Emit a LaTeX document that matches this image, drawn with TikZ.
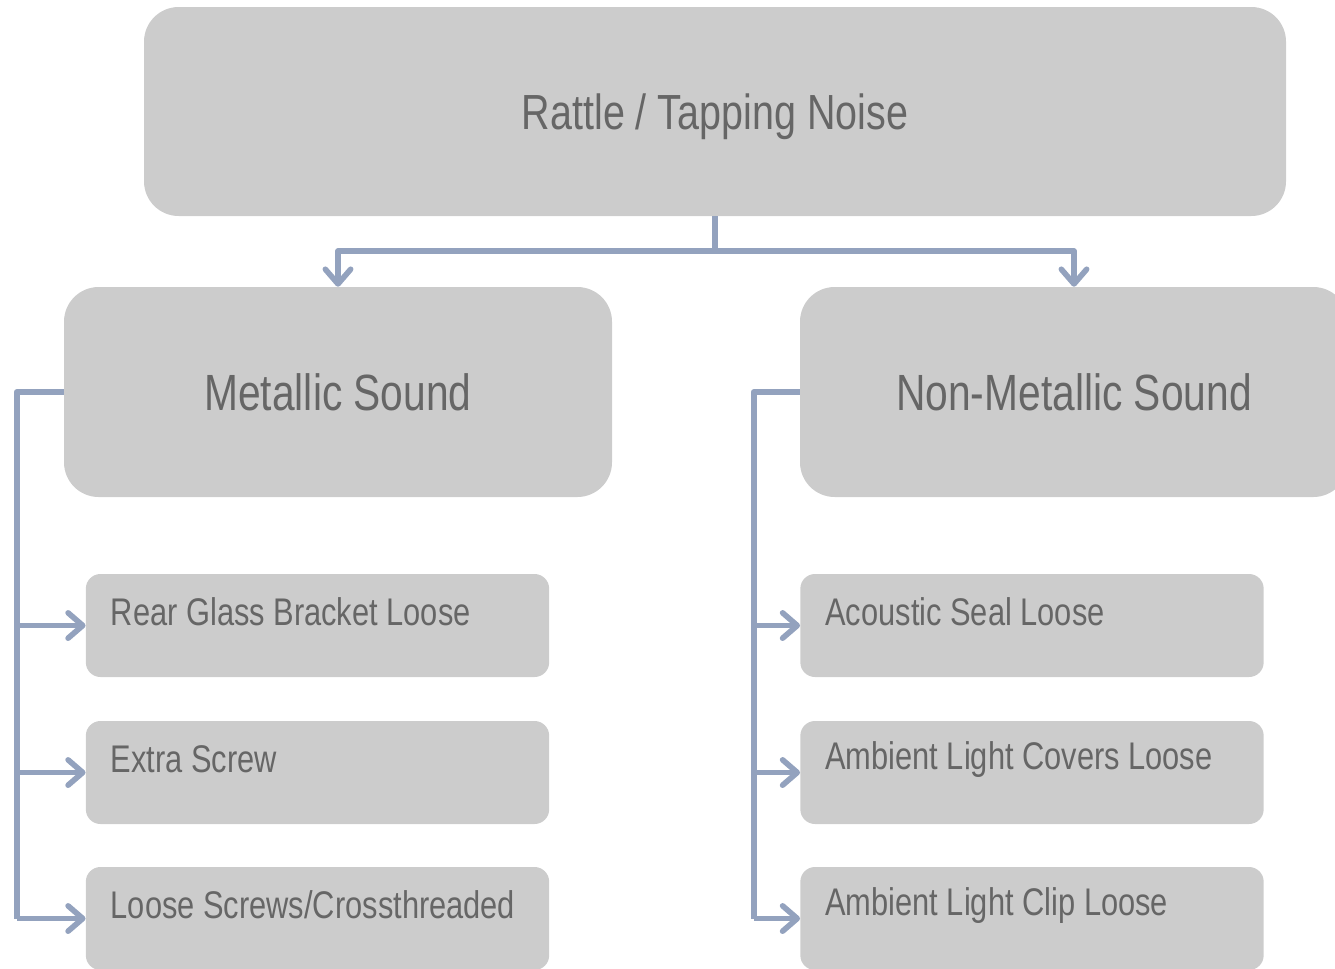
\documentclass[tikz,border=0pt]{standalone}
\usepackage{fontspec}
\setmainfont{Liberation Sans}[FakeStretch=0.8]
\usetikzlibrary{arrows.meta}
\definecolor{boxgray}{HTML}{CCCCCC}
\definecolor{txtgray}{HTML}{666666}
\definecolor{linkblue}{HTML}{93A2BE}
\begin{document}
\begin{tikzpicture}[x=0.75pt,y=-0.75pt,
  box/.style={fill=boxgray,text=txtgray,rounded corners=26pt,inner sep=0pt},
  leaf/.style={fill=boxgray,rounded corners=11pt,minimum width=347.5pt,minimum height=77.25pt},
  leaftxt/.style={anchor=west,text=txtgray,font=\fontsize{28.9}{30}\selectfont,inner sep=0pt},
  link/.style={draw=linkblue,line width=4.2pt,line join=round},
  arrowhd/.style={-{Straight Barb[length=11pt,width=19pt,round]}}]
\clip (0,0) rectangle (1335,968);
% main boxes
\node[box,minimum width=856.5pt,minimum height=156.75pt,text depth=0pt,font=\fontsize{37}{40}\selectfont] (top) at (715,111.5) {Rattle / Tapping Noise};
\node[box,minimum width=411pt,minimum height=157.5pt,font=\fontsize{38.2}{42}\selectfont] (metal) at (338,392) {Metallic Sound};
\node[box,minimum width=411pt,minimum height=157.5pt,font=\fontsize{38.2}{42}\selectfont] (nonmetal) at (1074,392) {Non-Metallic Sound};
% leaves
\foreach \i/\y in {1/625.5,2/772.5,3/918.5}{
  \node[leaf] (m\i) at (317.5,\y) {};
  \node[leaf] (n\i) at (1032,\y) {};
}
\node[leaftxt] (m1t) at ([xshift=18.75pt,yshift=10pt]m1.west) {Rear Glass Bracket Loose};
\node[leaftxt] (m2t) at ([xshift=18.75pt,yshift=10pt]m2.west) {Extra Screw};
\node[leaftxt] (m3t) at ([xshift=18.75pt,yshift=10pt]m3.west) {Loose Screws/Crossthreaded};
\node[leaftxt] (n1t) at ([xshift=18.75pt,yshift=10pt]n1.west) {Acoustic Seal Loose};
\node[leaftxt] (n2t) at ([xshift=18.75pt,yshift=10pt]n2.west) {Ambient Light Covers Loose};
\node[leaftxt] (n3t) at ([xshift=18.75pt,yshift=10pt]n3.west) {Ambient Light Clip Loose};
% connectors
\draw[link] (top.south) -- ++(0,35) coordinate (tj);
\draw[link,arrowhd] (tj) -| (metal.north);
\draw[link,arrowhd] (tj) -| (nonmetal.north);
\coordinate (ml) at ([xshift=-35.25pt]metal.west);
\coordinate (nl) at ([xshift=-34.5pt]nonmetal.west);
\draw[link] (metal.west) -- (ml) -- (ml |- m3.west);
\draw[link] (nonmetal.west) -- (nl) -- (nl |- n3.west);
\foreach \i in {1,2,3}{
  \draw[link,arrowhd] (ml |- m\i.west) -- (m\i.west);
  \draw[link,arrowhd] (nl |- n\i.west) -- (n\i.west);
}
\end{tikzpicture}
\end{document}
